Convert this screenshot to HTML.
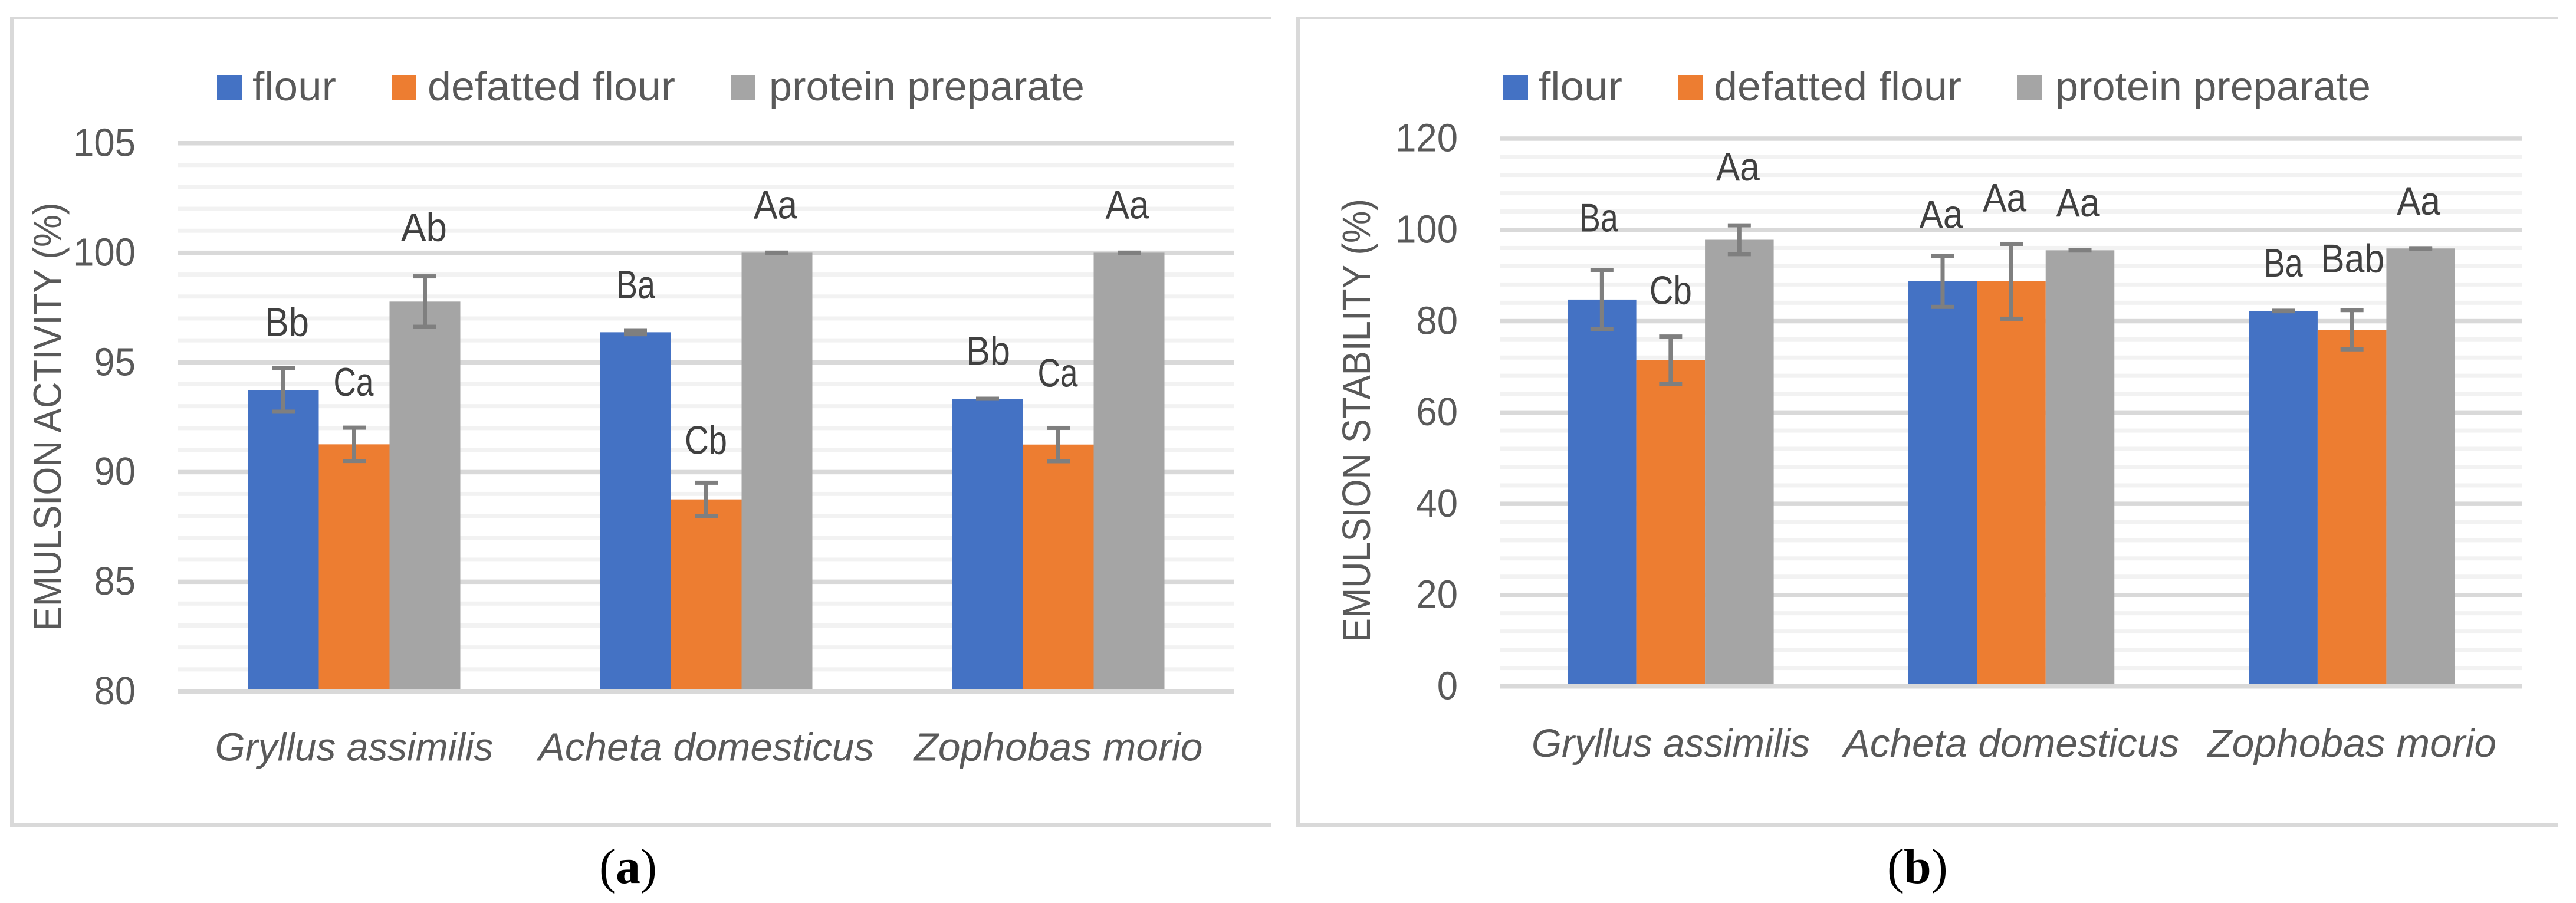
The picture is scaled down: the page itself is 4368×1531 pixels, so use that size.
<!DOCTYPE html>
<html lang="en">
<head>
<meta charset="utf-8">
<title>Emulsion activity and stability of insect flours</title>
<style>
  html, body { margin: 0; padding: 0; background: #ffffff; }
  svg { display: block; font-family: "Liberation Sans", sans-serif; }
</style>
</head>
<body>
<svg id="figure" xmlns="http://www.w3.org/2000/svg" width="4368" height="1531" viewBox="0 0 4368 1531">
  <rect x="0" y="0" width="4368" height="1531" fill="#ffffff"/>
  <g fill="#d9d9d9">
    <rect x="17" y="28" width="2139" height="4"/>
    <rect x="17" y="28" width="7" height="1374"/>
    <rect x="17" y="1396" width="2139" height="6"/>
  </g>
  <g fill="#d9d9d9">
    <rect x="2198" y="28" width="2139" height="4"/>
    <rect x="2198" y="28" width="7" height="1374"/>
    <rect x="2198" y="1396" width="2139" height="6"/>
  </g>
  <g id="chart-a"></g>
  <g id="chart-b"></g>
  <text x="1016" y="1497" font-family="'Liberation Serif', serif" font-size="84" fill="#000000">(<tspan font-weight="bold">a</tspan>)</text>
  <text x="3200" y="1497" font-family="'Liberation Serif', serif" font-size="84" fill="#000000">(<tspan font-weight="bold">b</tspan>)</text>
</svg>

<script>
// ---------- shared data ----------
const categories = ["Gryllus assimilis", "Acheta domesticus", "Zophobas morio"];
const seriesNames = ["flour", "defatted flour", "protein preparate"];
const seriesColors = ["#4472c4", "#ed7d31", "#a5a5a5"];

// ---------- panel (a) emulsion activity ----------
const activityTicks = [80, 85, 90, 95, 100, 105];
const activityFlour = [93.74, 96.37, 93.34];
const activityDefatted = [91.26, 88.75, 91.25];
const activityProtein = [97.77, 100, 100];
const activityFlourErr = [0.99, 0.09, 0];
const activityDefattedErr = [0.76, 0.76, 0.76];
const activityProteinErr = [1.15, 0, 0];
const activityFlourLetters = ["Bb", "Ba", "Bb"];
const activityDefattedLetters = ["Ca", "Cb", "Ca"];
const activityProteinLetters = ["Ab", "Aa", "Aa"];

// ---------- panel (b) emulsion stability ----------
const stabilityTicks = [0, 20, 40, 60, 80, 100, 120];
const stabilityFlour = [84.7, 88.7, 82.2];
const stabilityDefatted = [71.4, 88.7, 78.1];
const stabilityProtein = [97.8, 95.5, 95.9];
const stabilityFlourErr = [6.5, 5.6, 0.05];
const stabilityDefattedErr = [5.2, 8.2, 4.3];
const stabilityProteinErr = [3.15, 0.05, 0.05];
const stabilityFlourLetters = ["Ba", "Aa", "Ba"];
const stabilityDefattedLetters = ["Cb", "Aa", "Bab"];
const stabilityProteinLetters = ["Aa", "Aa", "Aa"];

// ---------- layout (not data): label nudges relative to the error-bar top ----------
const activityLabelNudge = [
  [[6, -55], [0.5, -54], [1, -58]],
  [[-1, -54], [-0.5, -49], [-1, -70]],
  [[-1.5, -60], [-2.5, -58], [-3, -58]]
];
const stabilityLabelNudge = [
  [[-5.5, -65], [-2.5, -47], [0, -58]],
  [[0, -55], [-11.4, -55], [1, -64]],
  [[-2.5, -76], [-3.5, -57], [-3.6, -57]]
];
const letterWidths = { Bb: 75, Ba: 66, Ca: 68, Cb: 72, Ab: 78, Aa: 74, Bab: 108 };
const categoryWidths = [472, 569, 490];

const SVG_NS = "http://www.w3.org/2000/svg";

function add(parent, tag, attrs, text) {
  const el = document.createElementNS(SVG_NS, tag);
  for (const key in attrs) el.setAttribute(key, attrs[key]);
  if (text !== undefined) el.textContent = text;
  parent.appendChild(el);
  return el;
}

function slug(s) {
  return String(s).toLowerCase().replace(/[^a-z0-9]+/g, "-");
}

function drawChart(cfg) {
  const root = document.getElementById(cfg.id);
  const min = cfg.ticks[0];
  const max = cfg.ticks[cfg.ticks.length - 1];
  const y = function (v) {
    return cfg.y0 - (v - min) * (cfg.y0 - cfg.yTop) / (max - min);
  };
  const groupW = (cfg.right - cfg.left) / categories.length;
  const groupX = function (i) {
    return cfg.left + (i + 0.5) * groupW;
  };
  const barX = function (i, s) {
    return groupX(i) + (s - (seriesNames.length - 1) / 2) * cfg.barW;
  };

  // gridlines
  for (let t = 0; t < cfg.ticks.length - 1; t++) {
    const step = (cfg.ticks[t + 1] - cfg.ticks[t]) / 5;
    for (let m = 1; m < 5; m++) {
      const minor = add(root, "rect", { x: cfg.left, y: y(cfg.ticks[t] + m * step) - 3.5, width: cfg.right - cfg.left, height: 7, fill: "#f2f2f2" });
      
      
    }
  }
  cfg.ticks.forEach(function (t) {
    if (t === min) return;
    const major = add(root, "rect", { x: cfg.left, y: y(t) - 3.5, width: cfg.right - cfg.left, height: 7.5, fill: "#d9d9d9" });
    
    
  });

  // bars
  cfg.values.forEach(function (vals, s) {
    vals.forEach(function (v, i) {
      const top = y(v);
      const bar = add(root, "rect", { x: barX(i, s) - cfg.barW / 2, y: top, width: cfg.barW, height: cfg.y0 - top, fill: seriesColors[s] });
      
      
    });
  });

  // x axis line, over the bars
  const axis = add(root, "rect", { x: cfg.left, y: cfg.y0 - 4, width: cfg.right - cfg.left, height: 8, fill: "#d9d9d9" });
  
  

  // error bars
  cfg.errors.forEach(function (errs, s) {
    errs.forEach(function (e, i) {
      const cx = barX(i, s);
      const hi = y(cfg.values[s][i] + e);
      const lo = y(cfg.values[s][i] - e);
      const g = add(root, "g", { fill: "#7f7f7f" });
      
      
      const stem = add(g, "rect", { x: cx - 3.5, y: hi, width: 7, height: lo - hi });
      
      
      const capHi = add(g, "rect", { x: cx - 19.5, y: hi - 3.5, width: 39, height: 7 });
      
      
      const capLo = add(g, "rect", { x: cx - 19.5, y: lo - 3.5, width: 39, height: 7 });
      
      
    });
  });

  // significance letters
  cfg.letters.forEach(function (letters, s) {
    letters.forEach(function (txt, i) {
      const nudge = cfg.nudges[s][i];
      const lbl = add(root, "text", {
        x: barX(i, s) + nudge[0],
        y: y(cfg.values[s][i] + cfg.errors[s][i]) + nudge[1],
        "text-anchor": "middle",
        "font-size": 68,
        fill: "#404040",
        textLength: letterWidths[txt],
        lengthAdjust: "spacingAndGlyphs"
      }, txt);
      
      
    });
  });

  // y tick labels
  cfg.ticks.forEach(function (t) {
    const label = String(t);
    const tick = add(root, "text", {
      x: cfg.tickX,
      y: y(t) + 22,
      "text-anchor": "end",
      "font-size": 67,
      fill: "#595959",
      textLength: label.length * 35.3,
      lengthAdjust: "spacingAndGlyphs"
    }, label);
    
    
  });

  // category labels
  categories.forEach(function (name, i) {
    const cat = add(root, "text", {
      x: groupX(i),
      y: cfg.catY,
      "text-anchor": "middle",
      "font-size": 67,
      "font-style": "italic",
      fill: "#595959",
      textLength: categoryWidths[i],
      lengthAdjust: "spacingAndGlyphs"
    }, name);
    
    
  });

  // y axis title
  const title = add(root, "text", {
    transform: "translate(" + cfg.titleX + "," + cfg.titleY + ") rotate(-90)",
    "font-size": 67,
    fill: "#595959",
    textLength: cfg.titleLen,
    lengthAdjust: "spacingAndGlyphs"
  }, cfg.title);
  
  

  // legend
  const legendSwatchX = [368, 664, 1239];
  const legendTextX = [428, 725, 1304];
  const legendTextW = [142, 420, 535];
  seriesNames.forEach(function (name, s) {
    const entry = add(root, "g", {});
    
    
    const swatch = add(entry, "rect", { x: legendSwatchX[s] + cfg.legendDx, y: 128, width: 42, height: 42, fill: seriesColors[s] });
    
    
    const txt = add(entry, "text", {
      x: legendTextX[s] + cfg.legendDx,
      y: 170,
      "font-size": 69,
      fill: "#595959",
      textLength: legendTextW[s],
      lengthAdjust: "spacingAndGlyphs"
    }, name);
    
    
  });
}

drawChart({
  id: "chart-a",
  ticks: activityTicks,
  values: [activityFlour, activityDefatted, activityProtein],
  errors: [activityFlourErr, activityDefattedErr, activityProteinErr],
  letters: [activityFlourLetters, activityDefattedLetters, activityProteinLetters],
  nudges: activityLabelNudge,
  left: 302, right: 2093, y0: 1172, yTop: 242.5, barW: 120,
  tickX: 230, catY: 1289.5,
  title: "EMULSION ACTIVITY (%)", titleX: 103.5, titleY: 1069.5, titleLen: 726,
  legendDx: 0
});

drawChart({
  id: "chart-b",
  ticks: stabilityTicks,
  values: [stabilityFlour, stabilityDefatted, stabilityProtein],
  errors: [stabilityFlourErr, stabilityDefattedErr, stabilityProteinErr],
  letters: [stabilityFlourLetters, stabilityDefattedLetters, stabilityProteinLetters],
  nudges: stabilityLabelNudge,
  left: 2544, right: 4277, y0: 1163.5, yTop: 234.7, barW: 116.5,
  tickX: 2472, catY: 1283,
  title: "EMULSION STABILITY (%)", titleX: 2323, titleY: 1089, titleLen: 752,
  legendDx: 2181
});
</script>
</body>
</html>
